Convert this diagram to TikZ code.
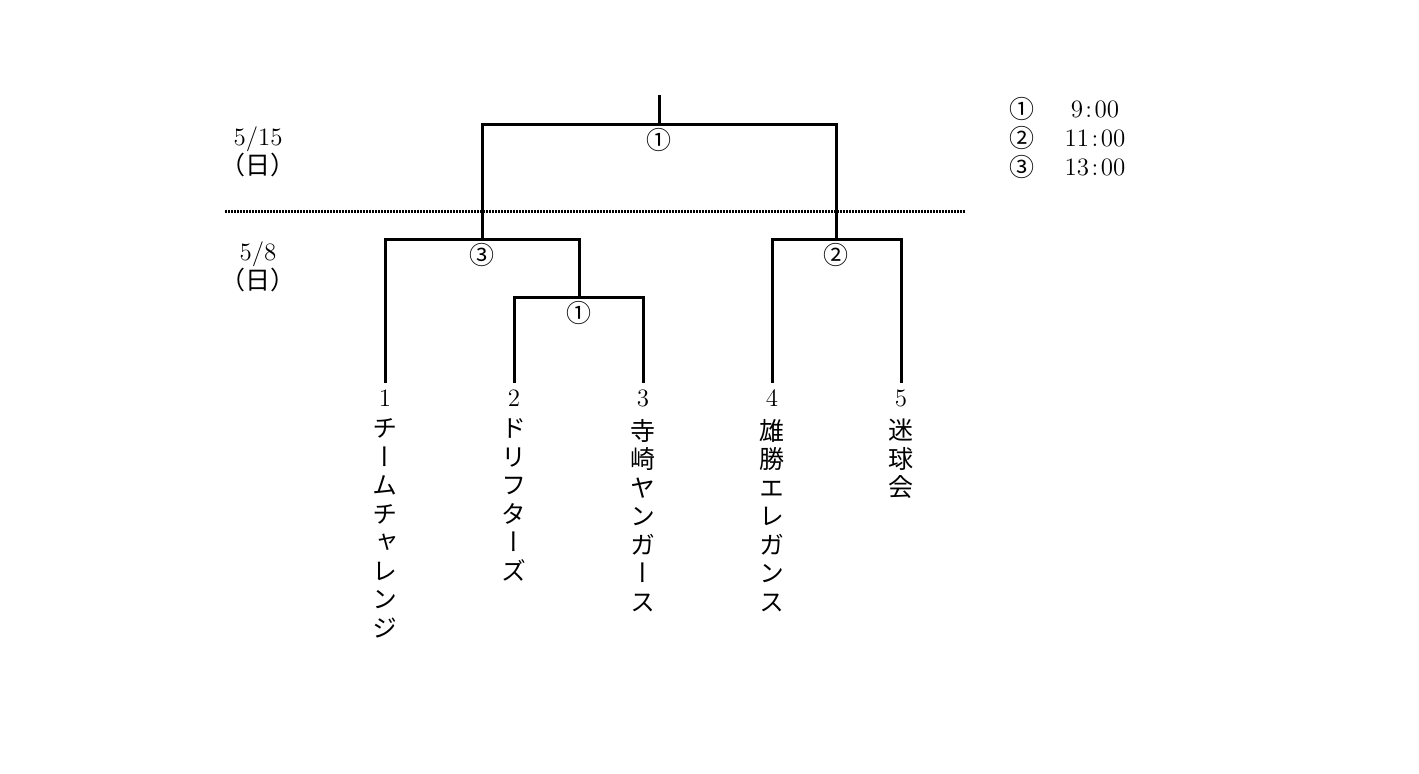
\documentclass[tikz,border=0pt]{standalone}
\usepackage{fontspec}
\usetikzlibrary{positioning}
\newfontfamily\cjk{Noto Sans CJK JP}
\newfontfamily\cjkv[RawFeature=+vert]{Noto Sans CJK JP}
\newcommand\tcolon{\hspace{1.2pt}:\hspace{1.2pt}}
\tikzset{
  every node/.style={font=\fontsize{12.5}{14.25}\selectfont},
  bracket/.style={line width=1.5pt},
  match/.style={anchor=north, inner sep=2pt, font=\fontsize{12.5}{14.25}\selectfont\cjk},
  seed/.style={anchor=north, inner sep=3pt},
  team/.style={align=center, inner sep=0pt, font=\fontsize{12.5}{14.25}\selectfont\cjkv},
  date/.style={align=center},
}
\begin{document}
\begin{tikzpicture}[x=0.5pt, y=-0.5pt]
   \useasboundingbox (0,0) rectangle (1419,773);
   % teams
   \node[seed] (t1) at (385,383) {1};
   \node[seed] (t2) at (514,383) {2};
   \node[seed] (t3) at (643,383) {3};
   \node[seed] (t4) at (772,383) {4};
   \node[seed] (t5) at (901,383) {5};
   \node[team, below=3pt of t1] (n1) {チ\\ー\\ム\\チ\\ャ\\レ\\ン\\ジ};
   \node[team, below=3pt of t2] (n2) {ド\\リ\\フ\\タ\\ー\\ズ};
   \node[team, below=3pt of t3] (n3) {寺\\崎\\ヤ\\ン\\ガ\\ー\\ス};
   \node[team, below=3pt of t4] (n4) {雄\\勝\\エ\\レ\\ガ\\ン\\ス};
   \node[team, below=3pt of t5] (n5) {迷\\球\\会};
   % matches
   \node[match] (m1) at (579,297) {①};
   \node[match] (m3) at (482,239) {③};
   \node[match] (m2) at (836,239) {②};
   \node[match] (mf) at (659,124) {①};
   \coordinate (champ) at (659,95);
   \draw[bracket] (t2.north) |- (m1.north) -| (t3.north);
   \draw[bracket] (t1.north) |- (m3.north) -| (m1.north);
   \draw[bracket] (t4.north) |- (m2.north) -| (t5.north);
   \draw[bracket] (m3.north) |- (mf.north) -| (m2.north);
   \draw[bracket] (mf.north) -- (champ);
   % day separator
   \coordinate (sepl) at (225,211);
   \coordinate (sepr) at (966,211);
   \draw[line width=1.5pt, dash pattern=on 1pt off 0.5pt] (sepl) -- (sepr);
   \node[date] (d2) at (258,152) {5/15\\{\cjk （日）}};
   \node[date] (d1) at (258,267) {5/8\\{\cjk （日）}};
   % times
   \node[font=\fontsize{12.5}{14.25}\selectfont\cjk] (c1) at (1022,109) {①};
   \node[font=\fontsize{12.5}{14.25}\selectfont\cjk] (c2) at (1022,138) {②};
   \node[font=\fontsize{12.5}{14.25}\selectfont\cjk] (c3) at (1022,167) {③};
   \node (h1) at (1095,109) {9\tcolon00};
   \node (h2) at (1095,138) {11\tcolon00};
   \node (h3) at (1095,167) {13\tcolon00};
\end{tikzpicture}
\end{document}
